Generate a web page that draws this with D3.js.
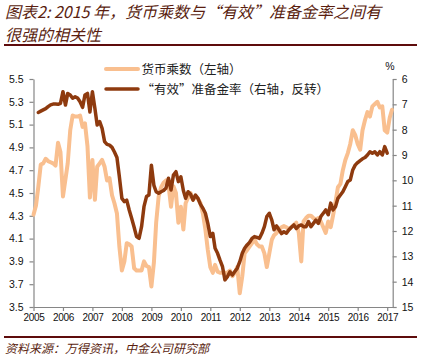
<!DOCTYPE html>
<html>
<head>
<meta charset="utf-8">
<script src="https://cdn.jsdelivr.net/npm/d3@7"></script>
<style>
  html, body { margin: 0; padding: 0; background: #fff; }
  svg { display: block; }
</style>
</head>
<body>
<svg id="chart" width="439" height="360"></svg>
<script>
// ---------------- DATA ----------------
const titleLines = ["图表2: 2015 年，货币乘数与“有效”准备金率之间有", "很强的相关性"];
const sourceText = "资料来源：万得资讯，中金公司研究部";
const seriesNames = ["货币乘数（左轴）", "“有效”准备金率（右轴，反转）"];
const yearTicks = [2005, 2006, 2007, 2008, 2009, 2010, 2011, 2012, 2013, 2014, 2015, 2016, 2017];
const leftTicks = [3.5, 3.7, 3.9, 4.1, 4.3, 4.5, 4.7, 4.9, 5.1, 5.3, 5.5];
const rightTicks = [6, 7, 8, 9, 10, 11, 12, 13, 14, 15];
const rightUnit = "%";

// monthly series; first month of each
const multiplierStart = "2005-01";
const multiplier = [
  4.31, 4.39, 4.55, 4.75, 4.76, 4.80, 4.78, 4.77, 4.76, 4.74, 4.94, 4.86,
  4.47, 4.62, 4.76, 5.05, 5.18, 5.17, 5.17, 5.18, 5.08, 5.11, 4.91, 4.46,
  4.79, 4.44, 4.73, 4.76, 4.79, 4.73, 4.61, 4.63, 4.48, 4.41, 4.32, 4.03,
  3.82, 3.90, 4.06, 4.05, 4.03, 3.84, 3.82, 3.82, 3.82, 3.90, 3.86, 3.85,
  3.68, 3.89, 4.24, 4.47, 4.55, 4.59, 4.61, 4.57, 4.38, 4.56, 4.50, 4.24,
  4.38, 4.18, 4.41, 4.46, 4.50, 4.44, 4.47, 4.45, 4.41, 4.32, 4.18, 4.00,
  3.85, 3.80, 3.87, 3.81, 3.80, 3.80, 3.80, 3.80, 3.82, 3.77, 3.80, 3.85,
  3.62, 3.77, 3.97, 4.00, 4.03, 4.06, 4.09, 4.05, 4.03, 4.03, 3.97, 3.85,
  3.97, 4.09, 4.13, 4.15, 4.18, 4.20, 4.21, 4.20, 4.18, 4.20, 4.22, 4.24,
  4.15, 3.90, 4.25, 4.28, 4.30, 4.30, 4.28, 4.27, 4.28, 4.25, 4.20, 4.15,
  4.25, 4.20, 4.30, 4.42, 4.55, 4.58, 4.70, 4.79, 4.85, 4.93, 5.05, 5.01,
  4.93, 4.88, 5.05, 5.14, 5.21, 5.17, 5.26, 5.28, 5.30, 5.25, 5.26, 5.05,
  5.03, 5.16, 5.23
];

const reserveStart = "2005-03";
const reserve = [
  7.32, 7.27, 7.22, 7.17, 7.09, 7.02, 6.99, 6.99, 7.00, 6.96,
  6.50, 7.03, 6.57, 6.63, 6.76, 6.70, 6.75, 6.90, 7.12, 6.63, 6.57, 7.30,
  6.50, 7.16, 7.82, 7.68, 7.95, 8.47, 8.58, 8.61, 8.70, 8.88, 9.10, 9.86,
  10.71, 10.84, 10.78, 11.17, 11.50, 11.85, 12.22, 12.29, 11.83, 11.04, 10.64, 10.58,
  9.40, 10.20, 10.45, 10.51, 10.45, 10.40, 10.30, 9.92, 10.38, 9.79, 9.66, 10.05,
  9.86, 10.40, 10.71, 10.45, 10.55, 10.78, 10.58, 10.71, 10.95, 11.10, 11.30, 11.70,
  12.22, 12.09, 12.68, 12.88, 13.15, 13.41, 13.93, 13.80, 13.61, 13.74, 13.60, 13.47,
  13.21, 12.88, 12.68, 12.55, 12.45, 12.29, 12.22, 12.25, 12.29, 12.09, 11.83, 11.43,
  11.30, 11.57, 11.95, 11.80, 11.95, 12.10, 12.03, 12.09, 11.95, 11.85, 11.76, 11.90,
  11.80, 11.76, 11.83, 11.83, 11.63, 11.83, 11.70, 11.57, 11.70, 11.43, 11.30, 11.17,
  11.36, 10.90, 11.17, 11.04, 10.71, 10.58, 10.45, 10.25, 10.05, 9.99, 9.59, 9.40,
  9.30, 9.22, 9.15, 9.10, 9.00, 8.87, 8.93, 8.87, 9.00, 8.87, 9.00, 8.67,
  8.93
];

// ---------------- DRAW ----------------
const svg = d3.select("#chart");
const parseMonth = d3.timeParse("%Y-%m");
const toSeries = (start, vals) => vals.map((v, i) => ({ date: d3.timeMonth.offset(parseMonth(start), i), value: v }));
const mmData = toSeries(multiplierStart, multiplier);
const rrData = toSeries(reserveStart, reserve);

const colorLight = "#F9BF8F";
const colorDark = "#8E3A0E";
const titleColor = "#5a1e10";
const ruleColor = "#5e0c0c";
const axisColor = "#868686";

const plot = { left: 33.5, right: 392.7, top: 79, bottom: 307 };

const x = d3.scaleTime()
  .domain([new Date(2005, 0, 1), new Date(2017, 2, 10)])
  .range([plot.left, plot.right]);
const yL = d3.scaleLinear().domain([3.5, 5.5]).range([plot.bottom, plot.top]);
const yR = d3.scaleLinear().domain([6, 15]).range([plot.top, plot.bottom]);

// title
const title = svg.append("g")
  .attr("font-family", "'Noto Sans CJK SC', sans-serif")
  .attr("font-style", "italic")
  .attr("font-size", 16)
  .attr("fill", titleColor);
title.selectAll("text").data(titleLines).join("text")
  .attr("x", 5)
  .attr("y", (d, i) => 17.5 + i * 23.5)
  .text(d => d);

// rules
svg.append("line").attr("x1", 4).attr("x2", 417).attr("y1", 45).attr("y2", 45)
  .attr("stroke", ruleColor).attr("stroke-width", 2);
svg.append("line").attr("x1", 4).attr("x2", 417).attr("y1", 337).attr("y2", 337)
  .attr("stroke", ruleColor).attr("stroke-width", 2);

// source
svg.append("text")
  .attr("x", 5).attr("y", 353)
  .attr("font-family", "'Noto Sans CJK SC', sans-serif")
  .attr("font-style", "italic")
  .attr("font-size", 12)
  .attr("fill", titleColor)
  .text(sourceText);

// axes
function styleAxis(g) {
  g.selectAll(".domain").attr("stroke", axisColor).attr("stroke-width", 1.2);
  g.selectAll(".tick line").attr("stroke", axisColor).attr("stroke-width", 1.2);
  g.selectAll(".tick text").attr("fill", "#111")
    .attr("font-family", "'Liberation Sans', Arial, sans-serif").attr("font-size", 10.5);
}

const gL = svg.append("g").attr("transform", `translate(${plot.left},0)`)
  .call(d3.axisLeft(yL).tickValues(leftTicks).tickFormat(d3.format(".1f")).tickSize(4).tickSizeOuter(0).tickPadding(6));
styleAxis(gL);

const gR = svg.append("g").attr("transform", `translate(${plot.right},0)`)
  .call(d3.axisRight(yR).tickValues(rightTicks).tickFormat(d3.format("d")).tickSize(4).tickSizeOuter(0).tickPadding(5));
styleAxis(gR);

const gX = svg.append("g").attr("transform", `translate(0,${plot.bottom})`)
  .call(d3.axisBottom(x).tickValues(yearTicks.map(yv => new Date(yv, 0, 1)))
    .tickFormat(d3.timeFormat("%Y")).tickSize(4).tickSizeOuter(0).tickPadding(3));
styleAxis(gX);
gX.selectAll(".tick text").attr("font-size", 10).attr("letter-spacing", "-0.3px");

svg.append("text")
  .attr("x", 390).attr("y", 70)
  .attr("text-anchor", "middle")
  .attr("font-family", "'Liberation Sans', Arial, sans-serif")
  .attr("font-size", 10.5).attr("fill", "#111")
  .text(rightUnit);

// lines
const lineL = d3.line().x(d => x(d.date)).y(d => yL(d.value));
const lineR = d3.line().x(d => x(d.date)).y(d => yR(d.value));

svg.append("path").datum(mmData)
  .attr("d", lineL).attr("fill", "none")
  .attr("stroke", colorLight).attr("stroke-width", 4)
  .attr("stroke-linejoin", "round").attr("stroke-linecap", "round");

svg.append("path").datum(rrData)
  .attr("d", lineR).attr("fill", "none")
  .attr("stroke", colorDark).attr("stroke-width", 3.5)
  .attr("stroke-linejoin", "round").attr("stroke-linecap", "round");

// legend
const legend = svg.append("g");
const legendItems = [
  { name: seriesNames[0], color: colorLight, w: 4, y: 69 },
  { name: seriesNames[1], color: colorDark, w: 3.5, y: 89 }
];
legendItems.forEach(it => {
  legend.append("line")
    .attr("x1", 106).attr("x2", 138).attr("y1", it.y).attr("y2", it.y)
    .attr("stroke", it.color).attr("stroke-width", it.w).attr("stroke-linecap", "round");
  legend.append("text")
    .attr("x", 141.5).attr("y", it.y + 4.5)
    .attr("font-family", "'Noto Sans CJK SC', sans-serif")
    .attr("font-size", 12.5).attr("fill", "#222")
    .text(it.name);
});
</script>
</body>
</html>
